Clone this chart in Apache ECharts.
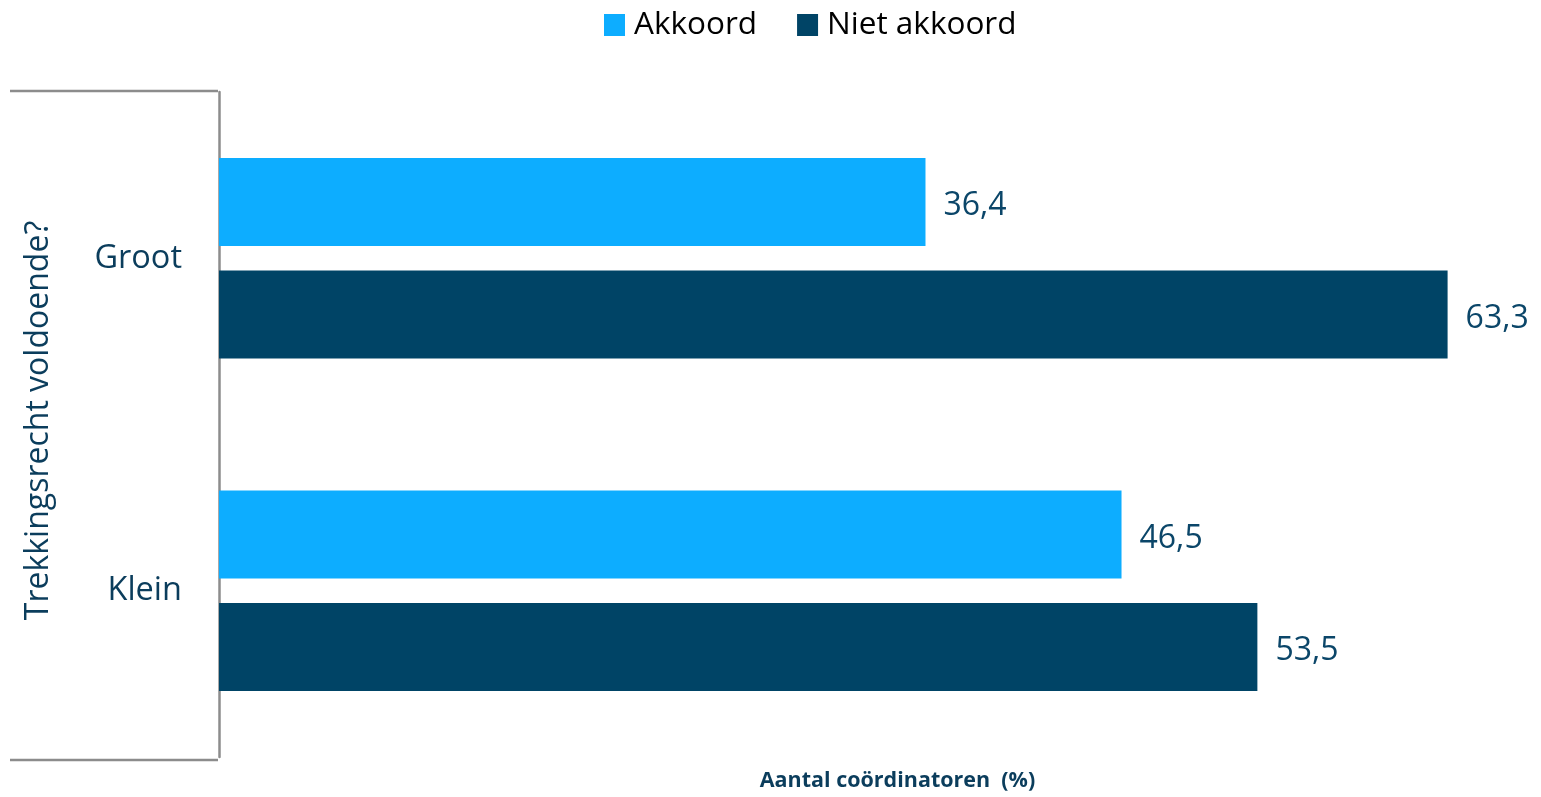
<!DOCTYPE html>
<html>
<head>
<meta charset="utf-8">
<script src="https://cdn.jsdelivr.net/npm/echarts@6/dist/echarts.min.js"></script>
<style>
html,body{margin:0;padding:0;background:#fff;}
#chart{width:1541px;height:797px;}
</style>
</head>
<body>
<div id="chart"></div>
<script>
const categories = ['Groot', 'Klein'];
const seriesNames = ['Akkoord', 'Niet akkoord'];
const akkoord = [36.4, 46.5];
const nietAkkoord = [63.3, 53.5];
const xAxisTitle = 'Aantal coördinatoren  (%)';
const yAxisTitle = 'Trekkingsrecht voldoende?';

const FONT = '"Open Sans", sans-serif';
const LABEL_COLOR = '#0B4669';
const chart = echarts.init(document.getElementById('chart'));
const fmt = p => String(p.value.toFixed(1)).replace('.', ',');

chart.setOption({
  animation: false,
  textStyle: { fontFamily: FONT },
  legend: {
    left: 599, top: 4,
    itemWidth: 21, itemHeight: 22, itemGap: 40,
    icon: 'rect',
    textStyle: { fontSize: 31.5, color: '#000', fontFamily: FONT, padding: [0, 0, 0, 4] },
    data: seriesNames
  },
  grid: { left: 219, top: 92, bottom: 37, right: 41, containLabel: false },
  xAxis: {
    type: 'value', min: 0, max: 66,
    axisLine: { show: false }, axisTick: { show: false }, axisLabel: { show: false },
    splitLine: { show: false },
    name: xAxisTitle, nameLocation: 'middle', nameGap: 13,
    nameTextStyle: { fontSize: 21.5, fontWeight: 'bold', color: '#0B3D5C', fontFamily: FONT, padding: [0, 0, 0, 76] }
  },
  yAxis: {
    type: 'category', data: categories, inverse: true,
    axisLine: { show: true, lineStyle: { color: '#8C8C8C', width: 2.5 } },
    axisTick: { show: false },
    axisLabel: { fontSize: 32.5, color: '#0B3D5C', margin: 37, fontFamily: FONT, padding: [12, 0, 0, 0] },
    name: yAxisTitle, nameLocation: 'middle', nameRotate: 90, nameGap: 164,
    nameTextStyle: { fontSize: 32, color: '#0B3D5C', fontFamily: FONT, padding: [0, 0, 0, 8] }
  },
  graphic: [
    { type: 'line', shape: { x1: 10, y1: 91, x2: 218, y2: 91 }, style: { stroke: '#8C8C8C', lineWidth: 2.5 } },
    { type: 'line', shape: { x1: 10, y1: 760, x2: 218, y2: 760 }, style: { stroke: '#8C8C8C', lineWidth: 2.5 } }
  ],
  series: [
    {
      name: seriesNames[0], type: 'bar', data: akkoord,
      barWidth: 88, barGap: '28%',
      itemStyle: { color: '#0DADFF' },
      label: { show: true, position: 'right', distance: 18, offset: [0, 4], fontSize: 32, color: LABEL_COLOR, fontFamily: FONT, formatter: fmt }
    },
    {
      name: seriesNames[1], type: 'bar', data: nietAkkoord,
      barWidth: 88, barGap: '28%',
      itemStyle: { color: '#004466' },
      label: { show: true, position: 'right', distance: 18, offset: [0, 4], fontSize: 32, color: LABEL_COLOR, fontFamily: FONT, formatter: fmt }
    }
  ]
});
</script>
</body>
</html>
